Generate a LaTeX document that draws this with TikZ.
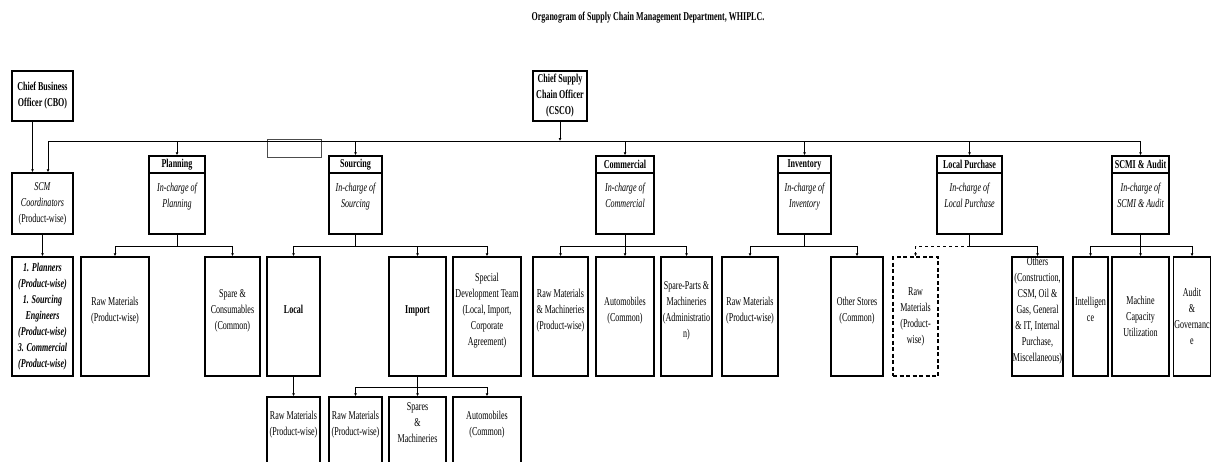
\documentclass[tikz,border=0pt]{standalone}
\usepackage{fontspec}
\setmainfont[FakeStretch=0.67]{Liberation Serif}
\usetikzlibrary{positioning,arrows.meta}

\newcommand\orgfont{\fontsize{12}{16}\selectfont}
% empty last line, pushes the text up a little
\newcommand\lift{\\[-2pt]\mbox{}}

\begin{document}
\begin{tikzpicture}[
  x=1pt, y=-1pt,
  box/.style={draw, line width=1.5pt, align=center, inner sep=1pt, font=\orgfont},
  topbox/.style={box, minimum height=50pt, font=\orgfont\bfseries},
  deptbox/.style={draw, line width=1.5pt, minimum height=78pt},
  headbox/.style={box, minimum height=17pt, font=\orgfont\bfseries},
  duty/.style={align=center, inner sep=0pt, font=\orgfont\itshape},
  kidbox/.style={box, minimum height=119pt},
  lowbox/.style={box, minimum height=66pt},
  link/.style={line width=0.6pt},
  arrow/.style={link, -{Latex[length=3pt,width=3pt]}}
]
\useasboundingbox (0,0) rectangle (1212,461);

\node[font=\orgfont\bfseries] (title) at (648,18) {Organogram of Supply Chain Management Department, WHIPLC.};

% top level
\node[topbox, minimum width=61pt] (cbo) at (42.5,96) {Chief Business\\Officer (CBO)};
\node[topbox, minimum width=54pt] (csco) at (560,96) {Chief Supply\\Chain Officer\\(CSCO)};
\node[box, minimum width=61pt, minimum height=61pt] (scm) at (42.5,203.5) {\textit{SCM}\\\textit{Coordinators}\\(Product-wise)};
\node[draw=black!70, line width=0.8pt, minimum width=54pt, minimum height=18pt, inner sep=0pt] (blank) at (294,148) {};

\coordinate (busL) at (48,141);
\coordinate (lvl2) at (0,246);
\coordinate (lvl3) at (0,387);

% departments
\node[deptbox, minimum width=56pt] (plan) at (177,195) {};
\node[headbox, minimum width=56pt, anchor=north] (planhead) at (plan.north) {Planning};
\node[duty, below=9pt of planhead] (planduty) {In-charge of\\Planning};

\node[deptbox, minimum width=53pt] (sour) at (355.5,195) {};
\node[headbox, minimum width=53pt, anchor=north] (sourhead) at (sour.north) {Sourcing};
\node[duty, below=9pt of sourhead] (sourduty) {In-charge of\\Sourcing};

\node[deptbox, minimum width=58pt] (comm) at (625,195) {};
\node[headbox, minimum width=58pt, anchor=north] (commhead) at (comm.north) {Commercial};
\node[duty, below=9pt of commhead] (commduty) {In-charge of\\Commercial};

\node[deptbox, minimum width=53pt] (inv) at (804.5,195) {};
\node[headbox, minimum width=53pt, anchor=north] (invhead) at (inv.north) {Inventory};
\node[duty, below=9pt of invhead] (invduty) {In-charge of\\Inventory};

\node[deptbox, minimum width=65pt] (lp) at (969.5,195) {};
\node[headbox, minimum width=65pt, anchor=north] (lphead) at (lp.north) {Local Purchase};
\node[duty, below=9pt of lphead] (lpduty) {In-charge of\\Local Purchase};

\node[deptbox, minimum width=57pt] (scmi) at (1140.5,195) {};
\node[headbox, minimum width=57pt, anchor=north] (scmihead) at (scmi.north) {SCMI \& Audit};
\node[duty, below=9pt of scmihead] (scmiduty) {In-charge of\\SCMI \& Audit};

% second row
\node[kidbox, minimum width=61pt, font=\orgfont\bfseries\itshape] (scmteam) at (42.5,316.5) {1. Planners\\(Product-wise)\\1. Sourcing\\Engineers\\(Product-wise)\\3. Commercial\\(Product-wise)};
\node[kidbox, minimum width=68pt] (planraw) at (115,316.5) {Raw Materials\\(Product-wise)\lift};
\node[kidbox, minimum width=55pt] (planspare) at (232.5,316.5) {Spare \&\\Consumables\\(Common)\lift};
\node[kidbox, minimum width=53pt, font=\orgfont\bfseries] (srclocal) at (293.5,316.5) {Local\lift};
\node[kidbox, minimum width=57pt, font=\orgfont\bfseries] (srcimport) at (417.5,316.5) {Import\lift};
\node[kidbox, minimum width=68pt] (srcspecial) at (487,316.5) {Special\\Development Team\\(Local, Import,\\Corporate\\Agreement)\lift};
\node[kidbox, minimum width=55pt] (comraw) at (560.5,316.5) {Raw Materials\\\& Machineries\\(Product-wise)\lift};
\node[kidbox, minimum width=58pt] (comauto) at (625,316.5) {Automobiles\\(Common)\lift};
\node[kidbox, minimum width=51pt] (comspare) at (686.5,316.5) {Spare-Parts \&\\Machineries\\(Administratio\\n)\lift};
\node[kidbox, minimum width=56pt] (invraw) at (750,316.5) {Raw Materials\\(Product-wise)\lift};
\node[kidbox, minimum width=52pt] (invother) at (857,316.5) {Other Stores\\(Common)\lift};
\node[kidbox, minimum width=45pt, dash pattern=on 4pt off 2.5pt] (lpraw) at (915.5,316.5) {Raw\\Materials\\(Product-\\wise)};
\node[kidbox, minimum width=51pt, inner sep=0pt] (lpother) at (1037.5,316.5) {Others\\(Construction,\\CSM, Oil \&\\Gas, General\\\& IT, Internal\\Purchase,\\Miscellaneous)\lift};
\node[kidbox, minimum width=35pt] (audint) at (1090.5,316.5) {Intelligen\\ce\lift};
\node[kidbox, minimum width=57pt] (audmcu) at (1140.5,316.5) {Machine\\Capacity\\Utilization};
\node[kidbox, minimum width=36pt] (audgov) at (1192,316.5) {Audit\\\&\\Governanc\\e};

% third row
\node[lowbox, minimum width=53pt] (locraw) at (293.5,430) {Raw Materials\\(Product-wise)\lift};
\node[lowbox, minimum width=53pt] (impraw) at (355.5,430) {Raw Materials\\(Product-wise)\lift};
\node[lowbox, minimum width=57pt] (impspare) at (417.5,430) {Spares\\\&\\Machineries\lift};
\node[lowbox, minimum width=68pt] (impauto) at (487,430) {Automobiles\\(Common)\lift};

% main lines
\draw[arrow] ([xshift=-10pt]cbo.south) -- ([xshift=-10pt]scm.north);
\draw[arrow] (csco) -- (csco |- busL);
\draw[link] (busL) -- (scmi |- busL);
\draw[arrow] (busL) -- (busL |- scm.north);
\draw[arrow] (plan |- busL) -- (plan);
\draw[arrow] (sour |- busL) -- (sour);
\draw[arrow] (comm |- busL) -- (comm);
\draw[arrow] (inv |- busL) -- (inv);
\draw[arrow] (lp |- busL) -- (lp);
\draw[arrow] (scmi |- busL) -- (scmi);

\draw[arrow] (scm) -- (scmteam);

\draw[link] (plan) -- (plan |- lvl2);
\draw[link] (planraw |- lvl2) -- (planspare |- lvl2);
\draw[arrow] (planraw |- lvl2) -- (planraw);
\draw[arrow] (planspare |- lvl2) -- (planspare);

\draw[link] (sour) -- (sour |- lvl2);
\draw[link] (srclocal |- lvl2) -- (srcspecial |- lvl2);
\draw[arrow] (srclocal |- lvl2) -- (srclocal);
\draw[arrow] (srcimport |- lvl2) -- (srcimport);
\draw[arrow] (srcspecial |- lvl2) -- (srcspecial);
\draw[arrow] (srclocal) -- (locraw);

\draw[link] (srcimport) -- (srcimport |- lvl3);
\draw[link] (impraw |- lvl3) -- (impauto |- lvl3);
\draw[arrow] (impraw |- lvl3) -- (impraw);
\draw[arrow] (impspare |- lvl3) -- (impspare);
\draw[arrow] (impauto |- lvl3) -- (impauto);

\draw[link] (comm) -- (comm |- lvl2);
\draw[link] (comraw |- lvl2) -- (comspare |- lvl2);
\draw[arrow] (comraw |- lvl2) -- (comraw);
\draw[arrow] (comauto |- lvl2) -- (comauto);
\draw[arrow] (comspare |- lvl2) -- (comspare);

\draw[link] (inv) -- (inv |- lvl2);
\draw[link] (invraw |- lvl2) -- (invother |- lvl2);
\draw[arrow] (invraw |- lvl2) -- (invraw);
\draw[arrow] (invother |- lvl2) -- (invother);

\draw[link] (lp) -- (lp |- lvl2);
\draw[link, dashed] (lp |- lvl2) -- (lpraw |- lvl2);
\draw[arrow, dashed] (lpraw |- lvl2) -- (lpraw);
\draw[link] (lp |- lvl2) -- (lpother |- lvl2);
\draw[arrow] (lpother |- lvl2) -- (lpother);

\draw[link] (scmi) -- (scmi |- lvl2);
\draw[link] (audint |- lvl2) -- (audgov |- lvl2);
\draw[arrow] (audint |- lvl2) -- (audint);
\draw[arrow] (audmcu |- lvl2) -- (audmcu);
\draw[arrow] (audgov |- lvl2) -- (audgov);
\end{tikzpicture}
\end{document}
